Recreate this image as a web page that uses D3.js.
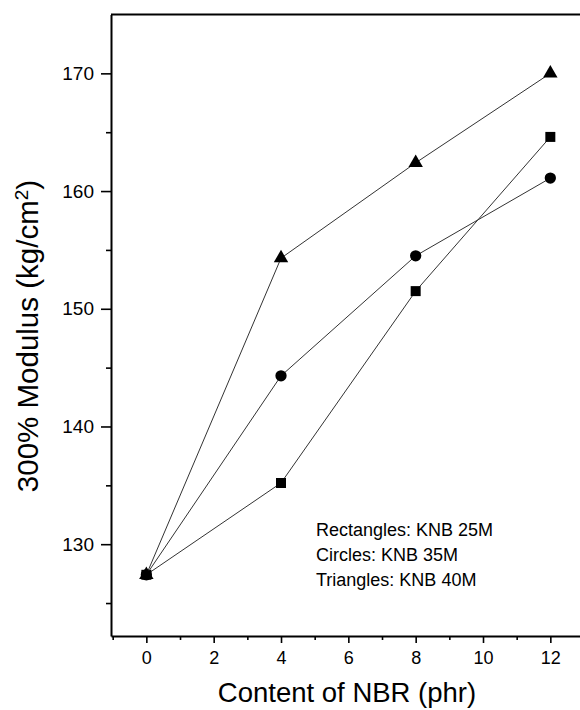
<!DOCTYPE html>
<html>
<head>
<meta charset="utf-8">
<script src="https://cdn.jsdelivr.net/npm/d3@7"></script>
<style>
  body { margin: 0; background: #fff; }
  text { font-family: "Liberation Sans", Arial, sans-serif; fill: #000; }
</style>
</head>
<body>
<svg id="chart" width="580" height="710"></svg>
<script>
// NBR content (phr)
const content = [0, 4, 8, 12];
// 300% modulus for each grade
const knb25 = [127.4, 135.2, 151.5, 164.6];
const knb35 = [127.4, 144.3, 154.5, 161.1];
const knb40 = [127.4, 154.3, 162.4, 170.0];
const xTicks = [0, 2, 4, 6, 8, 10, 12];
const yTicks = [130, 140, 150, 160, 170];
const legendLines = ["Rectangles: KNB 25M", "Circles: KNB 35M", "Triangles: KNB 40M"];

const svg = d3.select("#chart");
const plotLeft = 111, plotRight = 584, plotTop = 14.5, plotBottom = 636;

const x = d3.scaleLinear().domain([-1.05, 13]).range([plotLeft, plotRight]);
const y = d3.scaleLinear().domain([122.2, 175]).range([plotBottom, plotTop]);

// minor ticks
const xMinor = d3.range(-1, 14, 2);
const yMinor = d3.range(125, 175, 10);

const xAxis = svg.append("g")
  .attr("transform", "translate(0," + plotBottom + ")")
  .call(d3.axisBottom(x).tickValues(xTicks).tickSize(7).tickSizeOuter(0).tickPadding(7).tickFormat(d3.format("d")));
svg.append("g")
  .attr("transform", "translate(0," + plotBottom + ")")
  .call(d3.axisBottom(x).tickValues(xMinor).tickSize(4).tickSizeOuter(0).tickFormat(""))
  .select(".domain").remove();

const yAxis = svg.append("g")
  .attr("transform", "translate(" + plotLeft + ",0)")
  .call(d3.axisLeft(y).tickValues(yTicks).tickSize(10).tickSizeOuter(0).tickPadding(7));
svg.append("g")
  .attr("transform", "translate(" + plotLeft + ",0)")
  .call(d3.axisLeft(y).tickValues(yMinor).tickSize(5).tickSizeOuter(0).tickFormat(""))
  .select(".domain").remove();

svg.selectAll(".domain").attr("stroke-width", 2);
svg.selectAll(".tick line").attr("stroke-width", 1.6);
xAxis.selectAll("text").style("font-size", "18px").attr("dy", "0.75em");
yAxis.selectAll("text").style("font-size", "19px");

// top frame line
svg.append("line")
  .attr("x1", plotLeft).attr("x2", 580)
  .attr("y1", plotTop).attr("y2", plotTop)
  .attr("stroke", "#000").attr("stroke-width", 2);

const series = [
  { values: knb25, shape: d3.symbolSquare, size: 100 },
  { values: knb35, shape: d3.symbolCircle, size: 100 },
  { values: knb40, shape: d3.symbolTriangle, size: 90 }
];

const line = d3.line().x(d => x(d[0])).y(d => y(d[1]));

series.forEach(s => {
  const pts = content.map((c, i) => [c, s.values[i]]);
  svg.append("path")
    .attr("d", line(pts))
    .attr("fill", "none")
    .attr("stroke", "#333")
    .attr("stroke-width", 1);
  svg.selectAll(null)
    .data(pts)
    .enter()
    .append("path")
    .attr("d", d3.symbol().type(s.shape).size(s.size))
    .attr("transform", d => "translate(" + x(d[0]) + "," + y(d[1]) + ")")
    .attr("fill", "#000");
});

// legend text
svg.selectAll(".legend")
  .data(legendLines)
  .enter()
  .append("text")
  .attr("class", "legend")
  .attr("x", 316)
  .attr("y", (d, i) => 536 + i * 25)
  .style("font-size", "18px")
  .text(d => d);

// axis titles
svg.append("text")
  .attr("x", 347)
  .attr("y", 702)
  .attr("text-anchor", "middle")
  .style("font-size", "27.5px")
  .text("Content of NBR (phr)");

const yt = svg.append("text")
  .attr("transform", "translate(38,336) rotate(-90)")
  .attr("text-anchor", "middle")
  .style("font-size", "29.5px");
yt.append("tspan").text("300% Modulus (kg/cm");
yt.append("tspan").attr("baseline-shift", "super").style("font-size", "19px").text("2");
yt.append("tspan").text(")");
</script>
</body>
</html>
